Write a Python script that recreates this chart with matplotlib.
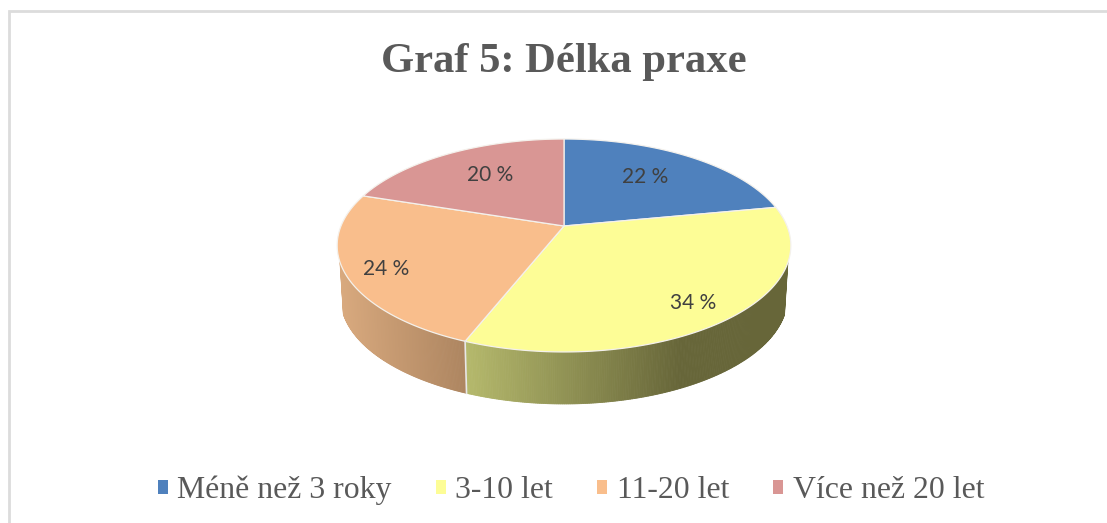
import numpy as np
import matplotlib
matplotlib.use("Agg")
import matplotlib.pyplot as plt
from matplotlib.patches import Patch, Polygon

categories = ["Méně než 3 roky", "3-10 let", "11-20 let", "Více než 20 let"]
values = [22, 34, 24, 20]
colors = ["#4f81bd", "#fdfd96", "#f9be8c", "#d99694"]
# side wall colour at the left and the right end of each visible wall
side_left = {1: "#b5b96c", 2: "#d8a97e"}
side_right = {1: "#676639", 2: "#ad8560"}
side_flat_x = 680

title = "Graf 5: Délka praxe"
label_pos = [(645, 177), (693, 303), (386, 269), (490, 175)]

# pie geometry in pixels, the tilt gives the perspective look
cx, cy = 564, 226
R = 223
A = 102.9
K = 0.183
depth = 52
lower_scale = 0.985


def project(theta):
    u, v = np.sin(theta), np.cos(theta)
    w = 1 + K * v
    return cx + R * u / w, cy - A * v / w


fig = plt.figure(figsize=(11.07, 5.23), dpi=100)
ax = fig.add_axes([0, 0, 1, 1])
ax.set_xlim(0, 1107)
ax.set_ylim(523, 0)
ax.axis("off")

# frame, only top and left are visible in the crop
ax.plot([9, 9, 1107], [523, 11, 11], color="#dcdcdc", lw=2, solid_joinstyle="miter")

edges = np.cumsum([0] + values) / sum(values) * 2 * np.pi

# side walls
for i in [1, 2]:
    t = np.linspace(edges[i], edges[i + 1], 300)
    x, y = project(t)
    keep = y > 262
    x, y = x[keep], y[keep]
    xb = cx + (x - cx) * lower_scale
    c0 = np.array(matplotlib.colors.to_rgb(side_left[i]))
    c1 = np.array(matplotlib.colors.to_rgb(side_right[i]))
    x0 = x.min()
    x1 = side_flat_x if i == 1 else x.max()
    for j in range(len(x) - 1):
        f = min(1, (0.5 * (x[j] + x[j + 1]) - x0) / (x1 - x0))
        col = c0 + (c1 - c0) * f
        pts = [(x[j], y[j]), (x[j + 1], y[j + 1]), (xb[j + 1], y[j + 1] + depth), (xb[j], y[j] + depth)]
        ax.add_patch(Polygon(pts, closed=True, fc=col, ec=col, lw=0.6))

# white seam between the two walls
sx, sy = project(edges[2])
ax.plot([sx, cx + (sx - cx) * lower_scale], [sy, sy + depth], color="#e8e8e8", lw=1.2)

# top faces
for i in range(4):
    t = np.linspace(edges[i], edges[i + 1], 200)
    x, y = project(t)
    pts = [(cx, cy)] + list(zip(x, y))
    ax.add_patch(Polygon(pts, closed=True, fc=colors[i], ec="#f4f1ec", lw=0.9, joinstyle="round"))

for v, (lx, ly) in zip(values, label_pos):
    ax.text(lx, ly, f"{v} %", ha="center", va="center", fontsize=15, family="Lato", color="#404040")

ax.text(564, 72, title, ha="center", va="baseline", fontsize=30.7, family="Liberation Serif",
        fontweight="bold", color="#595959")

handles = [Patch(fc=c, ec="none") for c in colors]
ax.legend(handles, categories, loc="center", bbox_to_anchor=(571 / 1107, 1 - 490.5 / 523),
          ncols=4, frameon=False, handlelength=0.31, handleheight=0.31, handletextpad=0.31,
          columnspacing=1.38, borderpad=0, labelcolor="#595959",
          prop={"family": "Liberation Serif", "size": 22.9})

fig.savefig("out.png", dpi=100)
